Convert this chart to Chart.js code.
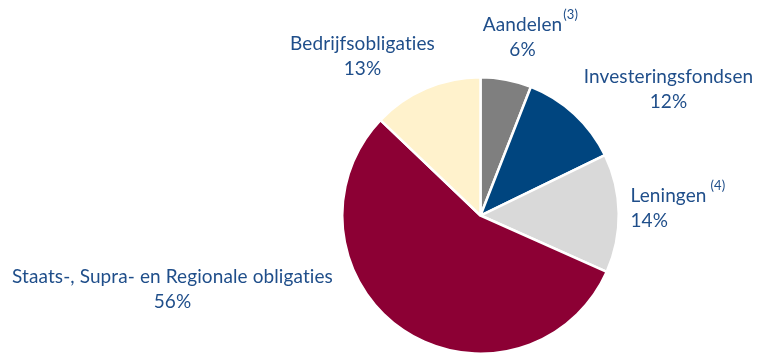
<!DOCTYPE html>
<html>
<head>
<meta charset="utf-8">
<script src="https://cdn.jsdelivr.net/npm/chart.js@4/dist/chart.umd.min.js"></script>
<style>
  html, body { margin: 0; padding: 0; background: #fff; }
  #wrap { width: 757px; height: 355px; position: relative; }
</style>
</head>
<body>
<div id="wrap"><canvas id="pieChart"></canvas></div>
<script>
// portefeuille-verdeling, met de klok mee vanaf boven
const labels = ['Aandelen', 'Investeringsfondsen', 'Leningen', 'Staats-, Supra- en Regionale obligaties', 'Bedrijfsobligaties'];
const shares = [6, 12, 14, 56, 13];
const notes = ['(3)', '', '(4)', '', ''];
const colors = ['#7f7f7f', '#00457f', '#d9d9d9', '#8c0034', '#fff2cc'];

// tekstpositie t.o.v. het middelpunt van de taart, plus uitlijning
const labelLayout = [
  { dx: 42, dy: -191, align: 'center', noteGap: 1 },
  { dx: 188, dy: -139, align: 'center', noteGap: 3 },
  { dx: 150, dy: -20, align: 'left', noteGap: 4 },
  { dx: -308, dy: 61, align: 'center', noteGap: 3 },
  { dx: -118, dy: -172, align: 'center', noteGap: 3 }
];

const textColor = '#1f4e8a';
const fontFamily = 'Lato, "Open Sans", sans-serif';

const sliceLabels = {
  id: 'sliceLabels',
  afterDraw(chart) {
    const ctx = chart.ctx;
    const arcs = chart.getDatasetMeta(0).data;
    const cx = arcs[0].x, cy = arcs[0].y;
    ctx.save();
    ctx.fillStyle = textColor;
    ctx.textBaseline = 'middle';
    ctx.letterSpacing = '0.1px'; // geen ti-ligatuur
    labels.forEach((name, i) => {
      const pos = labelLayout[i];
      const x = cx + pos.dx, y = cy + pos.dy;
      ctx.font = '19px ' + fontFamily;
      ctx.textAlign = pos.align;
      ctx.fillText(name, x, y);
      const w = ctx.measureText(name).width;
      ctx.fillText(shares[i] + '%', x, y + 25);
      if (notes[i]) {
        const right = pos.align === 'center' ? x + w / 2 : x + w;
        ctx.font = '13px ' + fontFamily;
        ctx.textAlign = 'left';
        ctx.fillText(notes[i], right + pos.noteGap, y - 10);
      }
    });
    ctx.restore();
  }
};

new Chart(document.getElementById('pieChart').getContext('2d'), {
  type: 'pie',
  data: {
    labels: labels,
    datasets: [{
      data: shares,
      backgroundColor: colors,
      borderColor: '#ffffff',
      borderWidth: 2.5
    }]
  },
  options: {
    responsive: true,
    maintainAspectRatio: false,
    animation: false,
    layout: { padding: { left: 341, right: 137, top: 76, bottom: 0 } },
    plugins: {
      legend: { display: false },
      tooltip: { enabled: false }
    }
  },
  plugins: [sliceLabels]
});
</script>
</body>
</html>
